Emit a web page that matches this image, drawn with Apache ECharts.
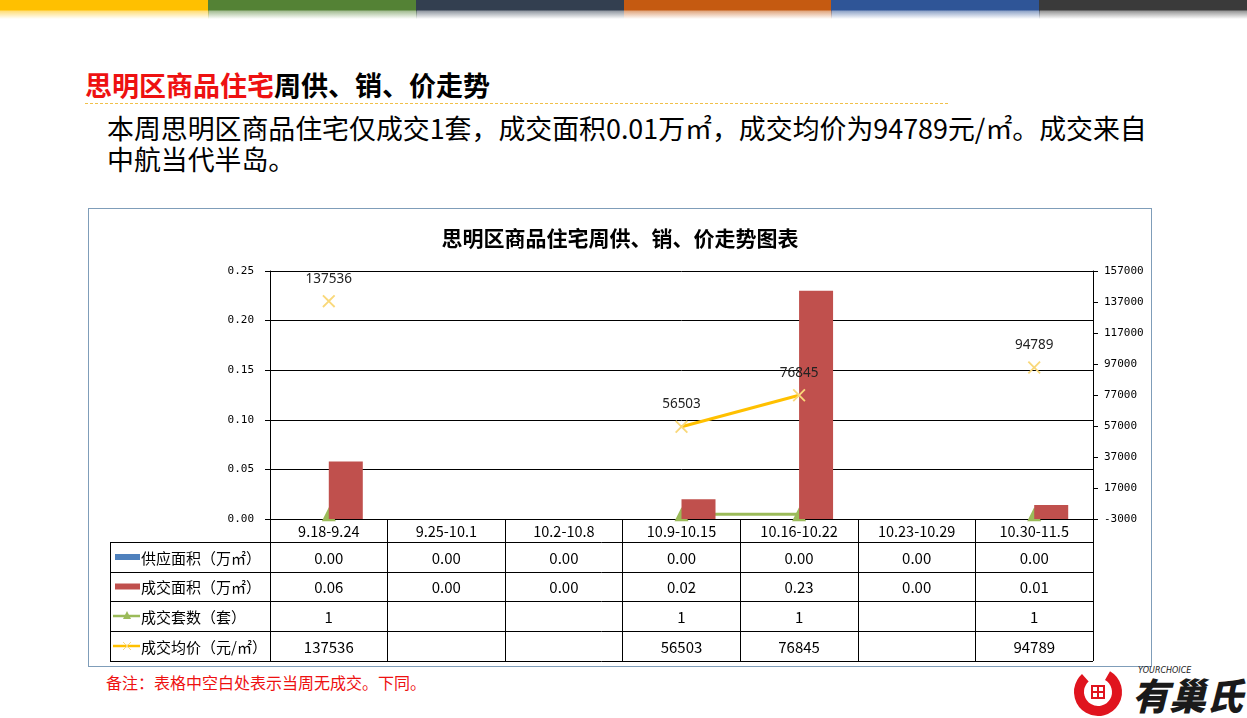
<!DOCTYPE html>
<html><head><meta charset="utf-8">
<script src="https://cdn.jsdelivr.net/npm/echarts@6/dist/echarts.min.js"></script>
<style>
body{margin:0;background:#fff;width:1247px;height:718px;overflow:hidden;position:relative;font-family:'Noto Sans CJK SC','Noto Sans',sans-serif;}
.tb{position:absolute;top:0;height:19px;}
#title{position:absolute;left:85px;top:69px;font-size:27px;line-height:32px;font-weight:bold;color:#000;white-space:nowrap;}
#title span{color:#EE1111;}
#dash{position:absolute;left:85px;top:103px;width:863px;border-top:1px dashed #F0C04A;}
#body{position:absolute;left:107px;top:112px;font-size:26.9px;line-height:31px;color:#000;white-space:nowrap;}
#box{position:absolute;left:88px;top:208px;width:1064px;height:459px;border:1px solid #7F9DB9;box-sizing:border-box;}
#note{position:absolute;left:106px;top:672px;font-size:16px;line-height:20px;color:#EE1111;white-space:nowrap;}
#logo{position:absolute;left:1062px;top:662px;}
#chart{position:absolute;left:0;top:0;width:1247px;height:718px;}
</style></head><body>
<div id="bars"></div>
<div id="title"><span>思明区商品住宅</span>周供、销、价走势</div>
<div id="dash"></div>
<div id="body">本周思明区商品住宅仅成交1套，成交面积0.01万㎡，成交均价为94789元/㎡。成交来自<br>中航当代半岛。</div>
<div id="box"></div>
<div id="note">备注：表格中空白处表示当周无成交。下同。</div>
<svg id="logo" width="185" height="56" viewBox="0 0 185 56">
  <circle cx="36" cy="30" r="19" fill="none" stroke="#E0141E" stroke-width="10" stroke-dasharray="95 25" transform="rotate(-60 36 30)"/>
  <rect x="29" y="23" width="14" height="14" fill="#E0141E"/>
  <rect x="31" y="25" width="4" height="4" fill="#fff"/><rect x="37" y="25" width="4" height="4" fill="#fff"/>
  <rect x="31" y="31" width="4" height="4" fill="#fff"/><rect x="37" y="31" width="4" height="4" fill="#fff"/>
  <text x="76" y="11" font-size="8" font-style="italic" font-family="DejaVu Sans" fill="#222">YOURCHOICE</text>
  <text x="70" y="48" font-size="37" font-weight="900" font-style="italic" font-family="Noto Sans CJK SC" fill="#1a1a1a">有巢氏</text>
</svg>
<div id="chart"></div>
<script>
// ---- data ----
const categories = ['9.18-9.24','9.25-10.1','10.2-10.8','10.9-10.15','10.16-10.22','10.23-10.29','10.30-11.5'];
const supplyArea = [0, 0, 0, 0, 0, 0, 0];
const salesArea = [0.058, 0, 0, 0.02, 0.23, 0, 0.014];
const salesUnits = [1, null, null, 1, 1, null, 1];
const avgPrice = [137536, null, null, 56503, 76845, null, 94789];
const rowNames = ['供应面积（万㎡）', '成交面积（万㎡）', '成交套数（套）', '成交均价（元/㎡）'];
const leftAxis = {min: 0, max: 0.25, interval: 0.05};
const rightAxis = {min: -3000, max: 157000, interval: 20000};
const topColors = ['#FFC000', '#548235', '#333F50', '#C55A11', '#2F5597', '#3A3A3A'];

// top color bars
const barsEl = document.getElementById('bars');
topColors.forEach((c, i) => {
  const d = document.createElement('div');
  d.className = 'tb';
  d.style.left = (i * 1247 / 6) + 'px';
  d.style.width = (1247 / 6 + 1) + 'px';
  d.style.background = `linear-gradient(to bottom, ${c} 0px, ${c} 10px, ${c}88 11px, ${c}00 19px)`;
  barsEl.appendChild(d);
});

const gridL = 270, gridR = 1093, gridT = 271, gridB = 519;
const FONT = 'Noto Sans CJK SC';
const xMark = 'path://M0,1L1,0L5,4L9,0L10,1L6,5L10,9L9,10L5,6L1,10L0,9L4,5Z';

const chart = echarts.init(document.getElementById('chart'));
chart.setOption({
  animation: false,
  grid: {left: gridL, right: 1247 - gridR, top: gridT, bottom: 718 - gridB, containLabel: false},
  xAxis: {
    type: 'category', data: categories,
    axisLine: {lineStyle: {color: '#000', width: 1}},
    axisTick: {show: true, interval: 0, length: 142, lineStyle: {color: '#000'}},
    axisLabel: {interval: 0, margin: 5, color: '#000', fontSize: 14.5, fontFamily: FONT}
  },
  yAxis: [{
    type: 'value', min: leftAxis.min, max: leftAxis.max, interval: leftAxis.interval,
    axisLine: {show: true, lineStyle: {color: '#000'}},
    axisTick: {show: true, length: 5, lineStyle: {color: '#000'}},
    splitLine: {show: true, lineStyle: {color: '#000', width: 1}},
    axisLabel: {margin: 16, color: '#000', fontSize: 11, fontFamily: 'DejaVu Sans Mono', formatter: v => v.toFixed(2)}
  }, {
    type: 'value', position: 'right', min: rightAxis.min, max: rightAxis.max, interval: rightAxis.interval,
    axisLine: {show: true, lineStyle: {color: '#000'}},
    axisTick: {show: true, length: 5, lineStyle: {color: '#000'}},
    splitLine: {show: false},
    axisLabel: {margin: 11, color: '#000', fontSize: 11, fontFamily: 'DejaVu Sans Mono', formatter: v => String(Math.round(v))}
  }],
  series: [{
    name: '供应面积', type: 'bar', data: supplyArea, barWidth: 34, barGap: '0%',
    itemStyle: {color: '#4F81BD'}, z: 2
  }, {
    name: '成交面积', type: 'bar', data: salesArea, barWidth: 34, barGap: '0%',
    itemStyle: {color: '#C0504D'}, z: 2
  }, {
    name: '成交套数', type: 'line', yAxisIndex: 1, data: salesUnits, z: 1,
    symbol: 'triangle', symbolSize: 14, showAllSymbol: true,
    lineStyle: {color: '#9BBB59', width: 3}, itemStyle: {color: '#9BBB59'}
  }, {
    name: '成交均价', type: 'line', yAxisIndex: 1, data: avgPrice, z: 3,
    symbol: xMark, symbolSize: 13, showAllSymbol: true,
    lineStyle: {color: '#FFC000', width: 3}, itemStyle: {color: '#F9D87A'},
    label: {show: true, position: 'top', distance: 9, color: '#222', fontSize: 13.5, fontFamily: 'Noto Sans'}
  }]
});

// table below the chart, built from the data arrays
const rowsY = [542, 572, 601, 631, 661];
const tableL = 110;
const g = [];
g.push({type: 'text', style: {x: 620, y: 238, text: '思明区商品住宅周供、销、价走势图表', fill: '#000',
  font: 'bold 21px ' + FONT, textAlign: 'center', textVerticalAlign: 'middle'}});
rowsY.forEach(y => g.push({type: 'line', shape: {x1: tableL, y1: y + 0.5, x2: gridR, y2: y + 0.5}, style: {stroke: '#000', lineWidth: 1}}));
g.push({type: 'line', shape: {x1: tableL + 0.5, y1: rowsY[0], x2: tableL + 0.5, y2: rowsY[4]}, style: {stroke: '#000', lineWidth: 1}});
const rowVals = [
  supplyArea.map(v => v.toFixed(2)),
  salesArea.map(v => v.toFixed(2)),
  salesUnits.map(v => v == null ? '' : String(v)),
  avgPrice.map(v => v == null ? '' : String(v))
];
rowVals.forEach((vals, r) => {
  const cy = (rowsY[r] + rowsY[r + 1]) / 2 + 1;
  vals.forEach((t, i) => {
    const cx = chart.convertToPixel({xAxisIndex: 0}, i);
    g.push({type: 'text', style: {x: cx, y: cy, text: t, fill: '#000', font: '15px ' + FONT, textAlign: 'center', textVerticalAlign: 'middle'}});
  });
  g.push({type: 'text', style: {x: 141, y: cy, text: rowNames[r], fill: '#000', font: '15px ' + FONT, textAlign: 'left', textVerticalAlign: 'middle'}});
  // legend keys
  if (r === 0 || r === 1) {
    g.push({type: 'rect', shape: {x: 115, y: cy - 4, width: 25, height: 6}, style: {fill: r === 0 ? '#4F81BD' : '#C0504D'}});
  } else if (r === 2) {
    g.push({type: 'line', shape: {x1: 113, y1: cy - 1, x2: 140, y2: cy - 1}, style: {stroke: '#9BBB59', lineWidth: 2.5}});
    g.push({type: 'polygon', shape: {points: [[127, cy - 6], [123, cy + 2], [131, cy + 2]]}, style: {fill: '#9BBB59'}});
  } else {
    g.push({type: 'line', shape: {x1: 113, y1: cy - 1, x2: 140, y2: cy - 1}, style: {stroke: '#FFC000', lineWidth: 2.5}});
    g.push({type: 'line', shape: {x1: 123, y1: cy - 5, x2: 131, y2: cy + 3}, style: {stroke: '#F9D87A', lineWidth: 1}});
    g.push({type: 'line', shape: {x1: 131, y1: cy - 5, x2: 123, y2: cy + 3}, style: {stroke: '#F9D87A', lineWidth: 1}});
  }
});
chart.setOption({graphic: g});
</script>
</body></html>
